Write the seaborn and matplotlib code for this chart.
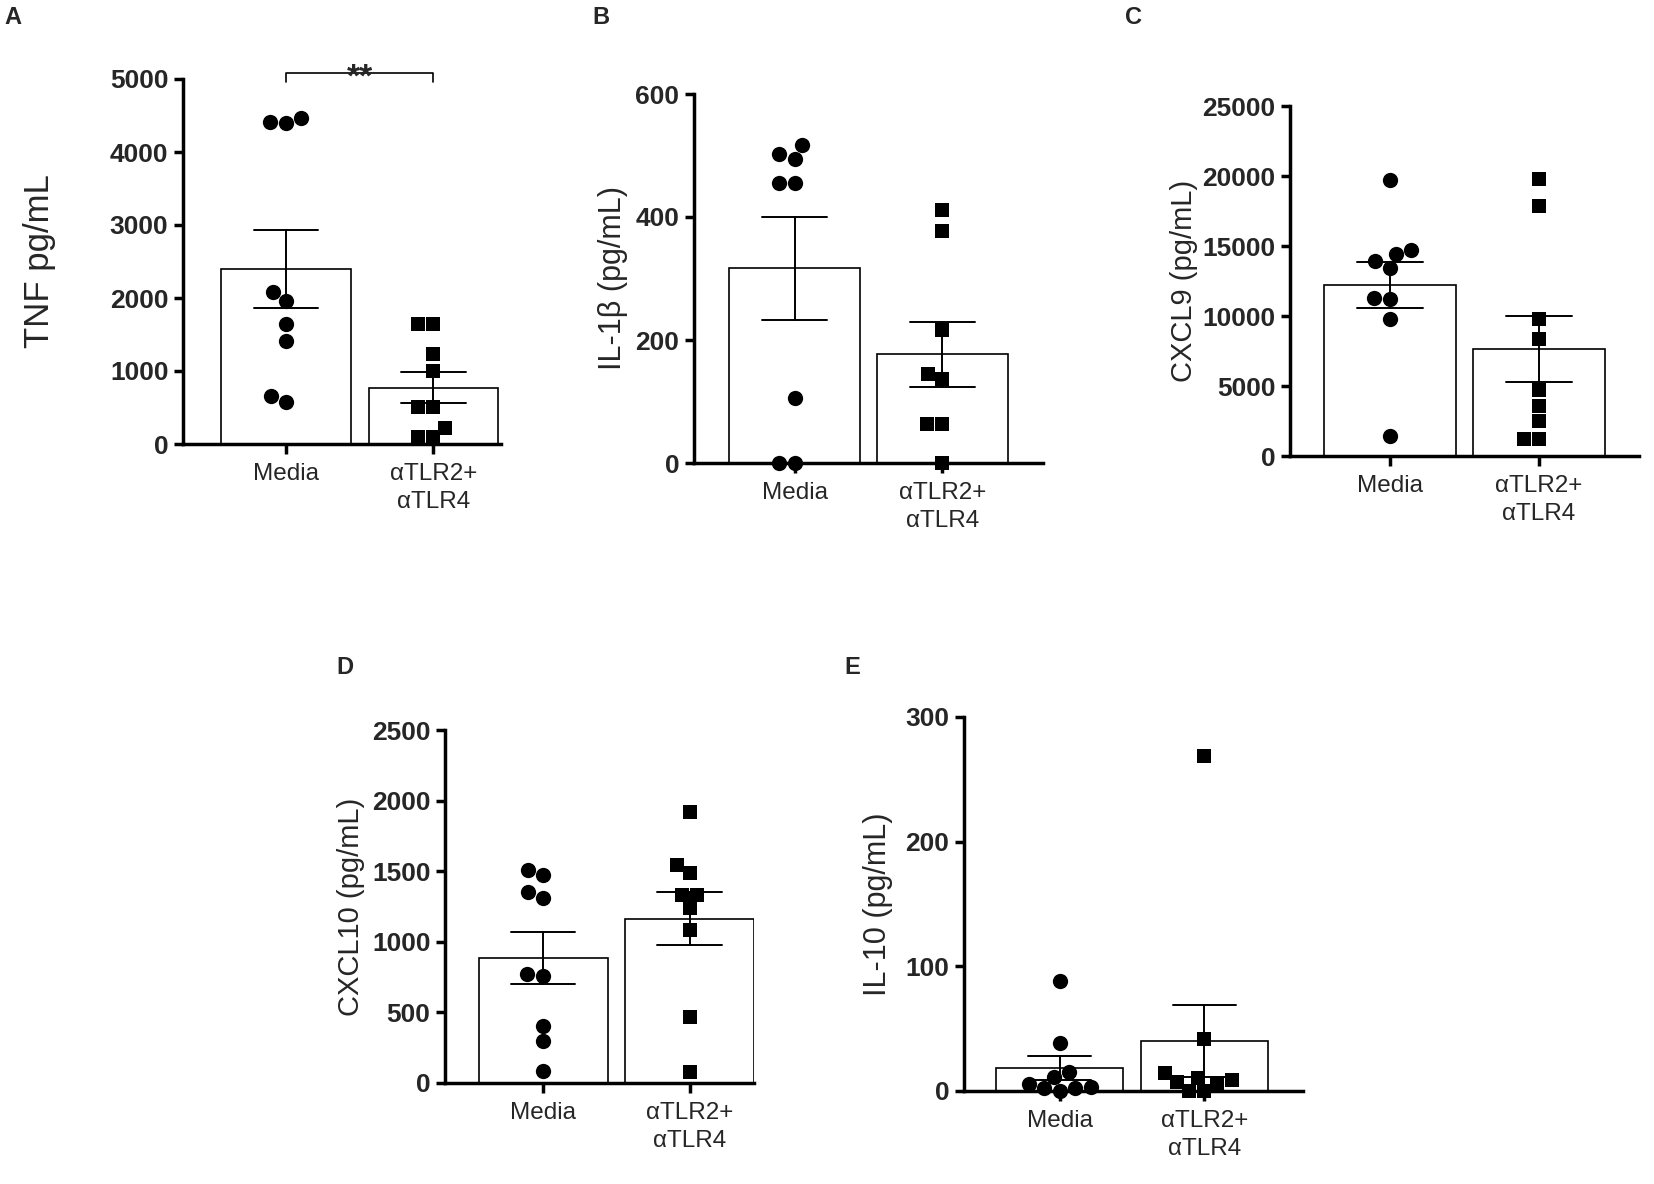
import numpy as np
import pandas as pd
import seaborn as sns
import matplotlib.pyplot as plt

# values (pg/mL), one point per donor
groups = ['Media', 'αTLR2+\nαTLR4']

tnf_media = [4470, 4415, 4392, 2084, 1961, 1641, 1412, 658, 576]
tnf_tlr = [1641, 1641, 1239, 1001, 507, 507, 219, 96, 96]
tnf_ticks = [0, 1000, 2000, 3000, 4000, 5000]

il1b_media = [495, 517, 503, 455, 455, 106, 0, 0]
il1b_tlr = [412, 377, 216, 145, 136, 64, 64, 0]
il1b_ticks = [0, 200, 400, 600]

cxcl9_media = [19738, 13429, 13905, 14690, 14452, 11238, 11310, 9762, 1405]
cxcl9_tlr = [19762, 17833, 9762, 8357, 4690, 3548, 2476, 1190, 1190]
cxcl9_ticks = [0, 5000, 10000, 15000, 20000, 25000]

cxcl10_media = [1507, 1472, 1310, 1353, 773, 761, 405, 294, 87]
cxcl10_tlr = [1917, 1543, 1488, 1329, 1334, 1240, 1085, 464, 80]
cxcl10_ticks = [0, 500, 1000, 1500, 2000, 2500]

il10_media = [88.5, 38.9, 11.5, 15.3, 5.9, 3.2, 2.7, 2.1, 0]
il10_tlr = [268.5, 42.1, 10.7, 8.8, 7.2, 6.7, 14.7, 0, 0]
il10_ticks = [0, 100, 200, 300]

sns.set_theme(style='ticks')
plt.rcParams['font.family'] = ['Liberation Sans', 'DejaVu Sans']

W, H = 1654, 1184
fig = plt.figure(figsize=(W / 100, H / 100), dpi=100)

# (letter, ylabel, label size, label x, media, tlr, ticks, box px, xlim, letter pos)
panels = [
    ('A', 'TNF pg/mL', 25, -0.40, tnf_media, tnf_tlr, tnf_ticks,
     (183, 79, 501, 444), (-0.70, 1.46), (13, 18)),
    ('B', 'IL-1β (pg/mL)', 22, -0.19, il1b_media, il1b_tlr, il1b_ticks,
     (694, 94, 1043, 463), (-0.68, 1.68), (601, 18)),
    ('C', 'CXCL9 (pg/mL)', 21, -0.265, cxcl9_media, cxcl9_tlr, cxcl9_ticks,
     (1290, 106, 1639, 456), (-0.67, 1.67), (1134, 18)),
    ('D', 'CXCL10 (pg/mL)', 21, -0.26, cxcl10_media, cxcl10_tlr, cxcl10_ticks,
     (445, 730, 754, 1083), (-0.67, 1.44), (345, 667)),
    ('E', 'IL-10 (pg/mL)', 22, -0.21, il10_media, il10_tlr, il10_ticks,
     (964, 717, 1303, 1091), (-0.66, 1.68), (852, 667)),
]

axes = {}
for letter, ylab, lsize, lx, media, tlr, ticks, box, xlim, lpos in panels:
    x0, y0, x1, y1 = box
    ax = fig.add_axes([x0 / W, 1 - y1 / H, (x1 - x0) / W, (y1 - y0) / H])
    df = pd.DataFrame({'group': [groups[0]] * len(media) + [groups[1]] * len(tlr),
                       'value': media + tlr})

    sns.barplot(data=df, x='group', y='value', order=groups, errorbar='se',
                capsize=0.44, width=0.88, color='white', edgecolor='black',
                linewidth=1.2, err_kws={'color': 'black', 'linewidth': 1.4}, ax=ax)
    sns.swarmplot(data=df[df.group == groups[0]], x='group', y='value', order=groups,
                  marker='o', color='black', size=11, ax=ax)
    sns.swarmplot(data=df[df.group == groups[1]], x='group', y='value', order=groups,
                  marker='s', color='black', size=10.5, ax=ax)
    for coll in ax.collections:
        coll.set_clip_on(False)

    ax.set_xlim(*xlim)
    ax.set_ylim(0, ticks[-1])
    ax.set_yticks(ticks)
    ax.set_yticklabels([str(t) for t in ticks], fontsize=19, fontweight='bold')
    ax.set_xticks([0, 1])
    ax.set_xticklabels(groups, fontsize=17.5, linespacing=1.35)
    ax.set_xlabel('')
    ax.set_ylabel(ylab, fontsize=lsize)
    ax.yaxis.set_label_coords(lx, 0.5)

    sns.despine(ax=ax)
    for side in ['left', 'bottom']:
        ax.spines[side].set_linewidth(2.5)
        ax.spines[side].set_color('black')
    ax.tick_params(axis='y', width=2.5, length=6.5, pad=4, color='black')
    ax.tick_params(axis='x', width=2.5, length=7, pad=7, color='black')

    fig.text(lpos[0] / W, 1 - lpos[1] / H, letter, fontsize=17, fontweight='bold',
             ha='center', va='center')
    axes[letter] = ax

# significance bracket on TNF
ax = axes['A']
ax.plot([0, 0, 1, 1], [4960, 5082, 5082, 4960], color='black', linewidth=1.2, clip_on=False)
ax.text(0.5, 4900, '**', ha='center', va='baseline', fontsize=24, fontweight='bold',
        clip_on=False)

fig.savefig('out.png', dpi=100, facecolor='white')
